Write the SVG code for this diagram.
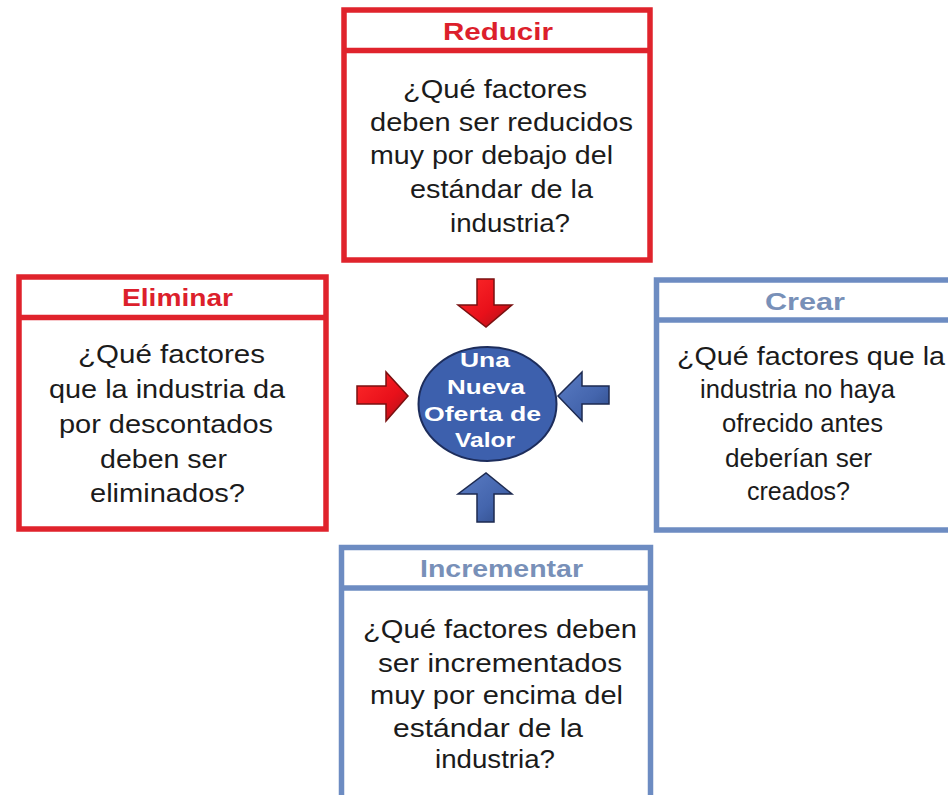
<svg xmlns="http://www.w3.org/2000/svg" width="948" height="795" viewBox="0 0 948 795">
<style>
.red{fill:#fff;stroke:#e0232c;stroke-width:5.5}
.blue{fill:#fff;stroke:#6d8cc2;stroke-width:5.5}
.hr{stroke:#e0232c;stroke-width:5.5}
.hb{stroke:#6d8cc2;stroke-width:5.5}
.tr{font-family:"Liberation Sans",Arial,sans-serif;font-weight:bold;font-size:24px;fill:#dc1f2c}
.tb{font-family:"Liberation Sans",Arial,sans-serif;font-weight:bold;font-size:24px;fill:#7890b8}
.body{font-family:"Liberation Sans",Arial,sans-serif;font-size:26px;fill:#1b1b1b}
.ct{font-family:"Liberation Sans",Arial,sans-serif;font-weight:bold;font-size:21px;fill:#fff}
</style>
<defs>
<linearGradient id="gr" x1="0" y1="0" x2="1" y2="1">
<stop offset="0" stop-color="#ff2a2a"/><stop offset="0.6" stop-color="#e8101a"/><stop offset="1" stop-color="#a8141a"/>
</linearGradient>
<linearGradient id="gb" x1="0" y1="0" x2="1" y2="1">
<stop offset="0" stop-color="#5a7cc4"/><stop offset="0.6" stop-color="#4465ad"/><stop offset="1" stop-color="#2e4a86"/>
</linearGradient>
</defs>
<rect width="948" height="795" fill="#fff"/>

<g id="reducir">
<rect class="red" x="344" y="10" width="306" height="250"/>
<line class="hr" x1="344" y1="50.5" x2="650" y2="50.5"/>
<text class="tr" x="443" y="40" textLength="110" lengthAdjust="spacingAndGlyphs">Reducir</text>
<text class="body" x="403" y="98" textLength="184" lengthAdjust="spacingAndGlyphs">¿Qué factores</text>
<text class="body" x="370" y="131" textLength="263" lengthAdjust="spacingAndGlyphs">deben ser reducidos</text>
<text class="body" x="370" y="164" textLength="243" lengthAdjust="spacingAndGlyphs">muy por debajo del</text>
<text class="body" x="410" y="198" textLength="183" lengthAdjust="spacingAndGlyphs">estándar de la</text>
<text class="body" x="450" y="232" textLength="120" lengthAdjust="spacingAndGlyphs">industria?</text>
</g>

<g id="eliminar">
<rect class="red" x="19" y="277" width="307" height="252"/>
<line class="hr" x1="19" y1="317.5" x2="326" y2="317.5"/>
<text class="tr" x="122" y="306" textLength="111" lengthAdjust="spacingAndGlyphs">Eliminar</text>
<text class="body" x="78" y="363" textLength="187" lengthAdjust="spacingAndGlyphs">¿Qué factores</text>
<text class="body" x="49" y="398" textLength="236" lengthAdjust="spacingAndGlyphs">que la industria da</text>
<text class="body" x="59" y="433" textLength="214" lengthAdjust="spacingAndGlyphs">por descontados</text>
<text class="body" x="100" y="468" textLength="127" lengthAdjust="spacingAndGlyphs">deben ser</text>
<text class="body" x="90" y="502" textLength="155" lengthAdjust="spacingAndGlyphs">eliminados?</text>
</g>

<g id="crear">
<rect class="blue" x="656.5" y="280" width="310" height="250"/>
<line class="hb" x1="656.5" y1="320" x2="966" y2="320"/>
<text class="tb" x="765" y="310" textLength="80" lengthAdjust="spacingAndGlyphs">Crear</text>
<text class="body" x="677" y="365" textLength="268" lengthAdjust="spacingAndGlyphs">¿Qué factores que la</text>
<text class="body" x="700" y="398" textLength="195" lengthAdjust="spacingAndGlyphs">industria no haya</text>
<text class="body" x="722" y="432" textLength="161" lengthAdjust="spacingAndGlyphs">ofrecido antes</text>
<text class="body" x="725" y="467" textLength="147" lengthAdjust="spacingAndGlyphs">deberían ser</text>
<text class="body" x="747" y="500" textLength="103" lengthAdjust="spacingAndGlyphs">creados?</text>
</g>

<g id="incrementar">
<rect class="blue" x="341.5" y="547.5" width="309" height="270"/>
<line class="hb" x1="341.5" y1="588" x2="650.5" y2="588"/>
<text class="tb" x="420" y="577" textLength="163" lengthAdjust="spacingAndGlyphs">Incrementar</text>
<text class="body" x="363" y="638" textLength="274" lengthAdjust="spacingAndGlyphs">¿Qué factores deben</text>
<text class="body" x="378" y="672" textLength="244" lengthAdjust="spacingAndGlyphs">ser incrementados</text>
<text class="body" x="370" y="704" textLength="253" lengthAdjust="spacingAndGlyphs">muy por encima del</text>
<text class="body" x="393" y="737" textLength="190" lengthAdjust="spacingAndGlyphs">estándar de la</text>
<text class="body" x="435" y="768" textLength="120" lengthAdjust="spacingAndGlyphs">industria?</text>
</g>

<g id="oferta">
<ellipse cx="487.5" cy="404" rx="69" ry="57" fill="#3d60ad" stroke="#1d2d5c" stroke-width="2"/>
<text class="ct" x="460" y="367" textLength="50" lengthAdjust="spacingAndGlyphs">Una</text>
<text class="ct" x="447" y="394" textLength="78" lengthAdjust="spacingAndGlyphs">Nueva</text>
<text class="ct" x="424" y="421" textLength="117" lengthAdjust="spacingAndGlyphs">Oferta de</text>
<text class="ct" x="455" y="447" textLength="60" lengthAdjust="spacingAndGlyphs">Valor</text>
</g>

<g id="connectors" stroke-width="1.5" stroke-linejoin="miter">
<polygon fill="url(#gr)" stroke="#7a1010" points="477,279 494,279 494,305 512,305 486,327 458,305 477,305"/>
<polygon fill="url(#gr)" stroke="#7a1010" points="357,386 386,386 386,372 408,396 386,421 386,404 357,404"/>
<polygon fill="url(#gb)" stroke="#1d2a50" points="609,386 582,386 582,372 558,396 582,421 582,404 609,404"/>
<polygon fill="url(#gb)" stroke="#1d2a50" points="477,522 494,522 494,494 512,494 486,473 458,494 477,494"/>
</g>
</svg>
